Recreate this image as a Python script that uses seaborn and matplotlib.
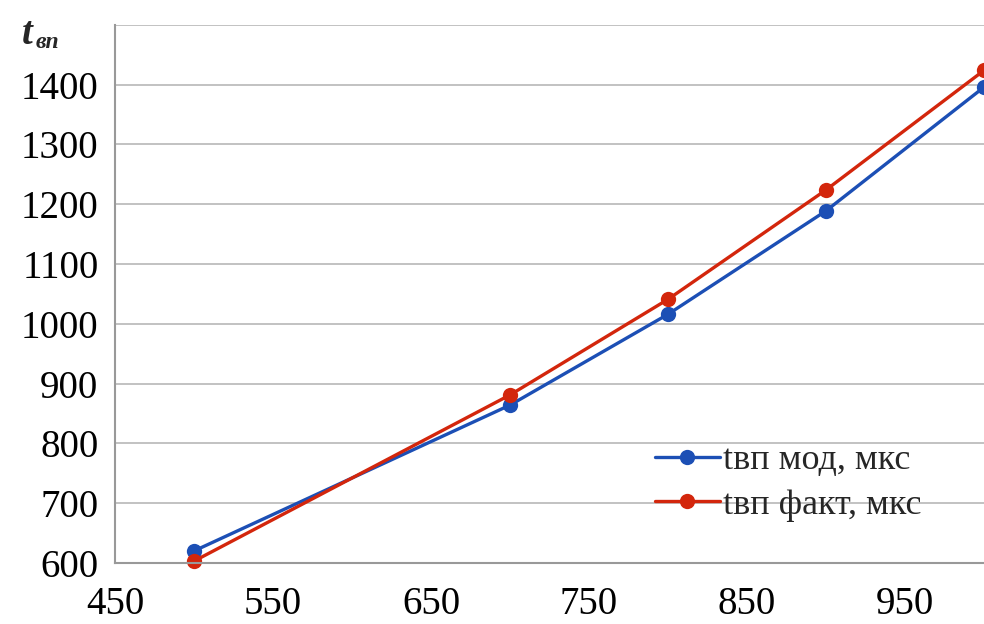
import pandas as pd
import matplotlib
matplotlib.use('Agg')
import matplotlib.pyplot as plt
import seaborn as sns

# данные
x_vals = [500, 700, 800, 900, 1000]
t_mod = [620, 864, 1016, 1189, 1396]
t_fact = [603, 881, 1041, 1224, 1424]
labels = ['tвп мод, мкс', 'tвп факт, мкс']
x_ticks = [450, 550, 650, 750, 850, 950]
y_ticks = [600, 700, 800, 900, 1000, 1100, 1200, 1300, 1400]

df = pd.DataFrame({
    'x': x_vals * 2,
    't': t_mod + t_fact,
    'series': [labels[0]] * len(x_vals) + [labels[1]] * len(x_vals),
})

sns.set_theme(style='white')
plt.rcParams['font.family'] = ['Liberation Serif', 'DejaVu Serif']

fig = plt.figure(figsize=(9.84, 6.24), dpi=100)
ax = fig.add_axes([0.117, 0.098, 0.883, 0.862])

palette = {labels[0]: '#1c4fb5', labels[1]: '#d3260c'}
sns.lineplot(data=df, x='x', y='t', hue='series', palette=palette, ax=ax,
             marker='o', markersize=11, linewidth=2.4, markeredgewidth=0,
             legend=True)
for line in ax.lines:
    line.set_clip_on(False)

ax.set_xlim(450, 1000)
ax.set_ylim(600, 1500)
ax.set_xticks(x_ticks)
ax.set_yticks(y_ticks)
ax.tick_params(axis='both', labelsize=28, colors='black')
ax.tick_params(axis='x', direction='out', length=7, width=1.2, color='#999999', pad=10)
ax.tick_params(axis='y', length=0, pad=12)
ax.set_xlabel('')
ax.set_ylabel('')

# сетка
for yv in y_ticks[1:] + [1500]:
    ax.axhline(yv, color='#bdbdbd', linewidth=1.3, zorder=0)

for s in ['top', 'right']:
    ax.spines[s].set_visible(False)
for s in ['left', 'bottom']:
    ax.spines[s].set_color('#999999')
    ax.spines[s].set_linewidth(1.5)

leg = ax.legend(loc='lower right', bbox_to_anchor=(0.945, 0.05), frameon=False,
                fontsize=26, handlelength=1.8, handletextpad=0.1,
                labelspacing=0.3, borderaxespad=0)

# подпись оси Y
fig.text(0.022, 0.93, 't', fontsize=28, fontstyle='italic', fontweight='bold')
fig.text(0.036, 0.923, 'вп', fontsize=17, fontstyle='italic', fontweight='bold')

fig.savefig('out.png', dpi=100)
